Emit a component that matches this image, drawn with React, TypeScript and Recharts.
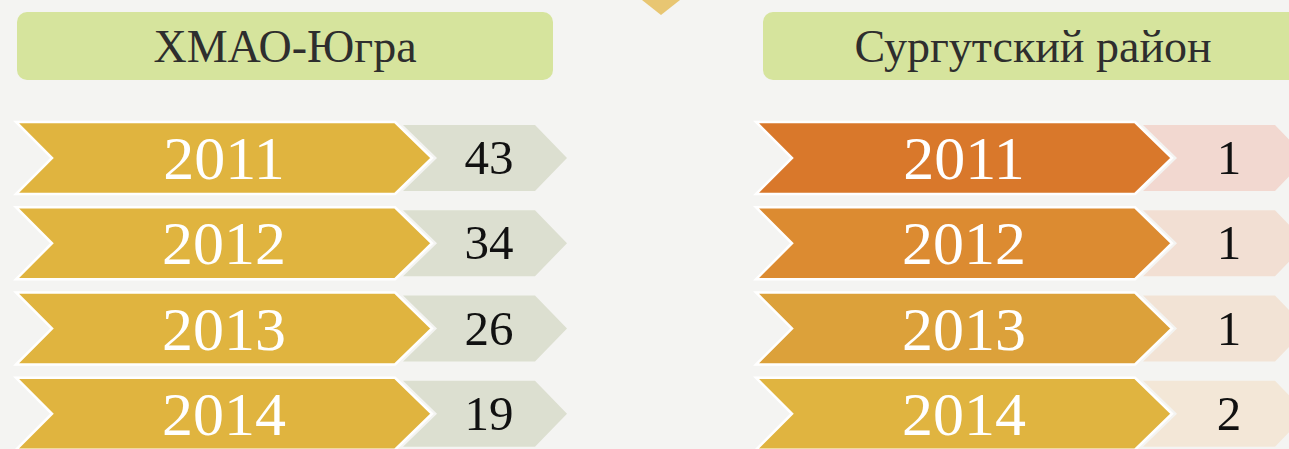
import { BarChart, Bar, XAxis, YAxis } from 'recharts'

const years = ['2011', '2012', '2013', '2014']
const hmaoCounts = [43, 34, 26, 19]
const surgutCounts = [1, 1, 1, 2]
const regionTitles = ['ХМАО-Югра', 'Сургутский район']

const SERIF = '"Liberation Serif", "Times New Roman", serif'

// row colours (head = year arrow, tail = value arrow)
const hmaoHead = ['#e0b43f', '#e0b43f', '#e0b43f', '#e0b43f']
const hmaoTail = ['#dcdfd0', '#dcdfd0', '#dcdfd0', '#dcdfd0']
const surgutHead = ['#d9782b', '#dc8b31', '#dca13a', '#e0b440']
const surgutTail = ['#f2d8d0', '#f2dfd3', '#f2e3d5', '#f3e7d7']

const CHART_W = 600
const CHART_H = 456

function ChevronRow(props: any) {
  const { x, y, width, height, payload, index, head, tail } = props
  const k = width / 551
  const cy = y + height / 2
  const b = y + height
  const bigPts = [
    [x, y], [x + 379 * k, y], [x + 416 * k, cy], [x + 379 * k, b], [x, b], [x + 36 * k, cy],
  ].map(p => p.join(',')).join(' ')
  const ty = y + 3
  const by = b - 3
  const smallPts = [
    [x + 387 * k, ty], [x + 519 * k, ty], [x + 551 * k, cy], [x + 519 * k, by], [x + 387 * k, by], [x + 421 * k, cy],
  ].map(p => p.join(',')).join(' ')
  return (
    <g>
      <polygon points={smallPts} fill={tail[index]} />
      <polygon points={bigPts} fill={head[index]} stroke="#ffffff" strokeWidth={2.5} strokeLinejoin="miter" />
      <text x={x + 208 * k} y={cy + 21} textAnchor="middle" fill="#ffffff" fontSize={62} fontFamily={SERIF}>
        {payload.year}
      </text>
      <text x={x + 473 * k} y={cy + 16} textAnchor="middle" fill="#111111" fontSize={49} fontFamily={SERIF}>
        {payload.count}
      </text>
    </g>
  )
}

function RegionChart({ counts, head, tail }: { counts: number[]; head: string[]; tail: string[] }) {
  const rows = years.map((year, i) => ({ year, count: counts[i] }))
  return (
    <BarChart
      width={CHART_W}
      height={CHART_H}
      data={rows}
      layout="vertical"
      margin={{ top: 115, right: 33, bottom: 0, left: 16 }}
    >
      <XAxis type="number" domain={[0, 1]} hide />
      <YAxis type="category" dataKey="year" hide />
      <Bar
        dataKey={() => 1}
        barSize={72}
        isAnimationActive={false}
        shape={(p: any) => <ChevronRow {...p} head={head} tail={tail} />}
      />
    </BarChart>
  )
}

const headerStyle = (left: number, width: number): React.CSSProperties => ({
  position: 'absolute',
  left,
  top: 12,
  width,
  height: 68,
  borderRadius: 10,
  background: '#d6e49d',
  color: '#2e2e2e',
  fontFamily: SERIF,
  fontSize: 46,
  lineHeight: '70px',
  textAlign: 'center',
})

export default function App() {
  return (
    <div
      style={{
        position: 'absolute',
        left: 0,
        top: 0,
        width: 1289,
        height: 449,
        overflow: 'hidden',
        background: '#f4f4f2',
      }}
    >
      <svg width={1289} height={20} style={{ position: 'absolute', left: 0, top: 0 }}>
        <polygon points="642,0 680,0 661,15" fill="#e8c672" />
      </svg>
      <div style={headerStyle(17, 536)}>{regionTitles[0]}</div>
      <div style={headerStyle(763, 540)}>{regionTitles[1]}</div>
      <div style={{ position: 'absolute', left: 0, top: 0 }}>
        <RegionChart counts={hmaoCounts} head={hmaoHead} tail={hmaoTail} />
      </div>
      <div style={{ position: 'absolute', left: 740, top: 0 }}>
        <RegionChart counts={surgutCounts} head={surgutHead} tail={surgutTail} />
      </div>
    </div>
  )
}
